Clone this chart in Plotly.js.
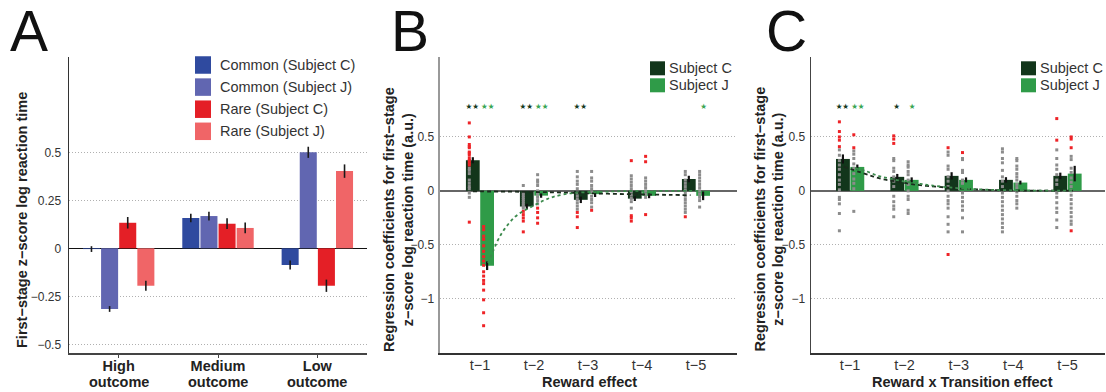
<!DOCTYPE html>
<html><head><meta charset="utf-8">
<script src="https://cdn.plot.ly/plotly-3.0.1.min.js"></script>
<style>html,body{margin:0;padding:0;background:#fff;} #chart{width:1106px;height:392px;}</style>
</head><body><div id="chart"></div>
<script>
// ---------- Panel A data ----------
const outcomeLevels = ['High', 'Medium', 'Low'];
const outcomeNoun = 'outcome';
const seriesA = ['Common (Subject C)', 'Common (Subject J)', 'Rare (Subject C)', 'Rare (Subject J)'];
const commonC = [-0.004, 0.158, -0.087];
const commonC_err = [0.015, 0.022, 0.024];
const commonJ = [-0.316, 0.168, 0.500];
const commonJ_err = [0.015, 0.023, 0.029];
const rareC = [0.133, 0.128, -0.195];
const rareC_err = [0.030, 0.028, 0.032];
const rareJ = [-0.195, 0.106, 0.402];
const rareJ_err = [0.026, 0.028, 0.035];
const yTicksA = [-0.5, -0.25, 0, 0.25, 0.5];
const yTickTextA = ['\u22120.5', '\u22120.25', '0', '0.25', '0.5'];

// ---------- Panels B / C data ----------
const lags = ['t\u22121', 't\u22122', 't\u22123', 't\u22124', 't\u22125'];
const subjects = ['Subject C', 'Subject J'];
const yTicksBC = [-1, -0.5, 0, 0.5];
const yTickTextBC = ['\u22121', '\u22120.5', '0', '0.5'];

// Reward effect (B)
const rewardC = [0.284, -0.145, -0.083, -0.072, 0.110];
const rewardC_err = [0.028, 0.025, 0.030, 0.022, 0.030];
const rewardJ = [-0.694, -0.044, -0.030, -0.046, -0.046];
const rewardJ_err = [0.040, 0.020, 0.027, 0.022, 0.040];
const rewardC_gray = [
  [0.21, 0.19, 0.16, 0.10, 0.07, 0.04, 0.02, -0.02, -0.06],
  [0.05, -0.02, -0.04, -0.06, -0.08, -0.10, -0.12, -0.14, -0.16],
  [0.18, 0.13, 0.09, 0.06, 0.02, -0.02, -0.05, -0.08, -0.11, -0.14, -0.17],
  [0.14, 0.11, 0.08, 0.05, 0.02, -0.01, -0.04, -0.07, -0.10, -0.16],
  [0.18, 0.15, 0.10, 0.07, 0.04, 0.01, -0.02, -0.05, -0.08, -0.11, -0.14, -0.17, -0.20]
];
const rewardC_red = [
  [0.63, 0.50, 0.43, 0.41, 0.40, 0.36, 0.35, 0.33, 0.30, 0.28, 0.26, 0.24, -0.29],
  [-0.19, -0.22, -0.25, -0.28, -0.38],
  [-0.20, -0.24, -0.34],
  [0.28, -0.23, -0.25, -0.28],
  [-0.24]
];
const rewardJ_gray = [
  [],
  [0.15, 0.10, 0.08, 0.05, 0.00, -0.03, -0.06, -0.09, -0.12],
  [0.18, 0.12, 0.09, 0.05, 0.02, -0.01, -0.05, -0.08, -0.11, -0.15],
  [0.12, 0.09, 0.06, 0.03, 0.00, -0.03, -0.06],
  [0.18, 0.15, 0.12, 0.09, 0.06, 0.03, 0.00, -0.03, -0.06, -0.09, -0.15]
];
const rewardJ_red = [
  [-0.33, -0.36, -0.42, -0.45, -0.51, -0.56, -0.61, -0.65, -0.69, -0.75, -0.79, -0.83, -0.86, -0.92, -1.01, -1.13, -1.25],
  [-0.16, -0.20, -0.25, -0.30],
  [-0.18],
  [0.32, 0.27, -0.22],
  []
];
const rewardFitC_x = [-0.13, 0.5, 1.0, 1.5, 2.0, 2.5, 3.0, 3.5, 3.9];
const rewardFitC_y = [-0.005, -0.007, -0.010, -0.015, -0.022, -0.028, -0.033, -0.037, -0.040];
const rewardFitJ_x = [0.15, 0.25, 0.34, 0.46, 0.65, 0.83, 1.02, 1.2, 1.36, 1.72, 2.2, 2.6, 3.2, 4.1];
const rewardFitJ_y = [-0.67, -0.55, -0.45, -0.35, -0.24, -0.18, -0.13, -0.085, -0.055, -0.02, -0.01, -0.003, 0.0, 0.0];
const rewardSigC = ['**', '**', '**', '', ''];
const rewardSigJ = ['**', '**', '', '', '*'];

// Reward x Transition effect (C)
const rtC = [0.296, 0.130, 0.139, 0.102, 0.139];
const rtC_err = [0.042, 0.027, 0.034, 0.025, 0.030];
const rtJ = [0.222, 0.102, 0.102, 0.077, 0.160];
const rtJ_err = [0.022, 0.023, 0.023, 0.018, 0.072];
const rtC_gray = [
  [0.38, 0.33, 0.28, 0.24, 0.20, 0.15, 0.10, 0.06, 0.01, -0.06, -0.08, -0.12, -0.21, -0.37],
  [0.30, 0.28, 0.21, 0.18, 0.13, 0.09, 0.04, -0.05, -0.10, -0.14, -0.17, -0.24],
  [0.36, 0.33, 0.23, 0.20, 0.13, 0.09, 0.04, 0.00, -0.05, -0.09, -0.12, -0.16, -0.24, -0.31, -0.38],
  [0.39, 0.36, 0.30, 0.26, 0.19, 0.13, 0.09, 0.04, -0.02, -0.06, -0.10, -0.14, -0.18, -0.22, -0.26, -0.30, -0.34, -0.38],
  [0.38, 0.30, 0.24, 0.20, 0.15, 0.10, 0.06, -0.02, -0.06, -0.11, -0.16, -0.20, -0.27, -0.34]
];
const rtC_red = [
  [0.64, 0.55, 0.50, 0.47, 0.41],
  [0.51, 0.48, 0.44],
  [0.40, -0.59],
  [],
  [0.67, 0.47]
];
const rtJ_gray = [
  [0.37, 0.34, 0.30, 0.25, 0.21, 0.16, 0.11, 0.07, 0.02, -0.19],
  [0.27, 0.24, 0.22, 0.18, 0.15, 0.10, 0.06, 0.00, -0.05, -0.08, -0.18, -0.21],
  [0.30, 0.29, 0.19, 0.17, 0.10, 0.07, -0.02, -0.06, -0.10, -0.14, -0.18, -0.25, -0.38],
  [0.30, 0.28, 0.23, 0.20, 0.16, 0.13, 0.10, 0.06, 0.03, -0.01, -0.05, -0.09, -0.12, -0.16],
  [0.32, 0.29, 0.21, 0.17, 0.12, 0.08, 0.04, 0.00, -0.04, -0.08, -0.12, -0.16, -0.20, -0.24, -0.28, -0.31]
];
const rtJ_red = [
  [0.52, 0.40],
  [],
  [0.355],
  [],
  [0.50, 0.48, 0.40, -0.37]
];
const rtFitC_x = [-0.12, 0.2, 0.43, 0.61, 0.86, 1.1, 1.41, 1.78, 2.09, 2.39, 2.7, 3.2, 3.8, 4.1];
const rtFitC_y = [0.225, 0.17, 0.133, 0.108, 0.086, 0.065, 0.046, 0.031, 0.019, 0.012, 0.006, 0.003, 0.002, 0.002];
const rtFitJ_x = [0.1, 0.31, 0.52, 0.71, 1.01, 1.29, 1.5, 1.8, 2.1, 2.4, 2.7, 3.2, 3.8, 4.1];
const rtFitJ_y = [0.21, 0.18, 0.139, 0.117, 0.086, 0.065, 0.05, 0.033, 0.021, 0.013, 0.008, 0.004, 0.002, 0.002];
const rtSigC = ['**', '*', '', '', ''];
const rtSigJ = ['**', '*', '', '', ''];

// ---------- styling ----------
const FONT = 'Liberation Sans, Arial, Helvetica, sans-serif';
const W = 1106, H = 392;
const px = v => v / W, py = v => 1 - v / H;
const colorsA = ['#2f4a9f', '#6166b1', '#e41f26', '#f06567'];
const colC = '#12361b', colJ = '#2f9b48';
const starC = '#143a1f', starJ = '#3aa553';
const grayDot = '#8c8c8c', redDot = '#ee2327';
const barW = 0.255, offC = -0.26, offJ = 0.005;
const cenC = offC + barW / 2, cenJ = offJ + barW / 2;
const dotShift = -0.065;
const starLevel = 0.78;

const traces = [];

// Panel A bars
[[commonC, commonC_err], [commonJ, commonJ_err], [rareC, rareC_err], [rareJ, rareJ_err]].forEach((s, k) => {
  traces.push({
    type: 'bar', x: outcomeLevels, y: s[0], name: seriesA[k], xaxis: 'x', yaxis: 'y',
    marker: {color: colorsA[k], line: {width: 0}},
    error_y: {type: 'data', array: s[1], color: '#1a1a1a', thickness: 1.6, width: 0},
    showlegend: false, hoverinfo: 'skip'
  });
});

function panel(xa, ya, vC, eC, vJ, eJ, gC, rC, gJ, rJ, fCx, fCy, fJx, fJy, sC, sJ) {
  const idx = lags.map((_, i) => i);
  traces.push({type: 'bar', x: idx, y: vC, width: barW, offset: offC, name: subjects[0], xaxis: xa, yaxis: ya,
    marker: {color: colC, line: {width: 0}}, error_y: {type: 'data', array: eC, color: '#111', thickness: 2.2, width: 0},
    showlegend: false, hoverinfo: 'skip'});
  traces.push({type: 'bar', x: idx, y: vJ, width: barW, offset: offJ, name: subjects[1], xaxis: xa, yaxis: ya,
    marker: {color: colJ, line: {width: 0}}, error_y: {type: 'data', array: eJ, color: '#111', thickness: 2.2, width: 0},
    showlegend: false, hoverinfo: 'skip'});
  function dots(lists, center, color) {
    const xs = [], ys = [];
    lists.forEach((l, i) => l.forEach(v => { xs.push(i + center + dotShift); ys.push(v); }));
    traces.push({type: 'scatter', mode: 'markers', x: xs, y: ys, xaxis: xa, yaxis: ya,
      marker: {color: color, size: 3, symbol: 'square', line: {width: 0}}, showlegend: false, hoverinfo: 'skip'});
  }
  dots(gC, cenC, grayDot); dots(gJ, cenJ, grayDot);
  dots(rC, cenC, redDot); dots(rJ, cenJ, redDot);
  traces.push({type: 'scatter', mode: 'lines', x: fCx, y: fCy, xaxis: xa, yaxis: ya, line: {shape: 'spline', color: '#1b2b1d', width: 1.8, dash: '4px,3px'}, showlegend: false, hoverinfo: 'skip'});
  traces.push({type: 'scatter', mode: 'lines', x: fJx, y: fJy, xaxis: xa, yaxis: ya, line: {shape: 'spline', color: '#3b8a4c', width: 1.8, dash: '3px,3px'}, showlegend: false, hoverinfo: 'skip'});
  const starTxt = s => s.replace(/\*/g, '\u2605');
  traces.push({type: 'scatter', mode: 'text', x: idx.map(i => i + cenC - 0.01), y: idx.map(() => starLevel), text: sC.map(starTxt),
    textfont: {color: starC, size: 7.5, family: 'DejaVu Sans'}, xaxis: xa, yaxis: ya, showlegend: false, hoverinfo: 'skip'});
  traces.push({type: 'scatter', mode: 'text', x: idx.map(i => i + cenJ + 0.01), y: idx.map(() => starLevel), text: sJ.map(starTxt),
    textfont: {color: starJ, size: 7.5, family: 'DejaVu Sans'}, xaxis: xa, yaxis: ya, showlegend: false, hoverinfo: 'skip'});
}
panel('x2', 'y2', rewardC, rewardC_err, rewardJ, rewardJ_err, rewardC_gray, rewardC_red, rewardJ_gray, rewardJ_red,
  rewardFitC_x, rewardFitC_y, rewardFitJ_x, rewardFitJ_y, rewardSigC, rewardSigJ);
panel('x3', 'y3', rtC, rtC_err, rtJ, rtJ_err, rtC_gray, rtC_red, rtJ_gray, rtJ_red,
  rtFitC_x, rtFitC_y, rtFitJ_x, rtFitJ_y, rtSigC, rtSigJ);

const yDom = [py(353), py(57)];
const gridStyle = {showgrid: true, gridcolor: '#b0b0b0', griddash: '1px,2px', gridwidth: 1};

const layout = {
  width: W, height: H, margin: {l: 0, r: 0, t: 0, b: 0},
  paper_bgcolor: '#fff', plot_bgcolor: '#fff',
  font: {family: FONT, color: '#333'},
  barmode: 'group', bargap: 0.27, bargroupgap: 0.06,
  showlegend: false,
  xaxis: {domain: [px(69), px(367)], anchor: 'y', type: 'category', range: [-0.5, 2.5],
    showline: true, linecolor: '#444', linewidth: 1.5, ticks: 'outside', ticklen: 3, tickcolor: '#444',
    ticklabelstandoff: -4,
    tickfont: {family: FONT, size: 14.5, weight: 'bold', color: '#222'}, showgrid: false, zeroline: false},
  yaxis: Object.assign({domain: yDom, anchor: 'x', range: [-0.5453, 0.9964], tickvals: yTicksA, ticktext: yTickTextA,
    tickfont: {family: FONT, size: 12, color: '#333'}, showline: true, linecolor: '#333', linewidth: 1.5, ticks: '',
    ticklabelstandoff: 4, zeroline: true, zerolinecolor: '#111', zerolinewidth: 1.5}, gridStyle),
  xaxis2: {domain: [px(440), px(737)], anchor: 'y2', range: [-0.74, 4.76], tickvals: [0, 1, 2, 3, 4], ticktext: lags,
    showline: true, linecolor: '#333', linewidth: 1.5, ticks: '', ticklabelstandoff: -2,
    tickfont: {family: FONT, size: 14.5, color: '#333'}, showgrid: false, zeroline: false},
  yaxis2: Object.assign({domain: yDom, anchor: 'x2', range: [-1.503, 1.241], tickvals: yTicksBC, ticktext: yTickTextBC,
    tickfont: {family: FONT, size: 12, color: '#333'}, showline: true, linecolor: '#999', linewidth: 2.5, ticks: '',
    ticklabelstandoff: 1, zeroline: true, zerolinecolor: '#666', zerolinewidth: 2}, gridStyle),
  xaxis3: {domain: [px(811), px(1105)], anchor: 'y3', range: [-0.72, 4.69], tickvals: [0, 1, 2, 3, 4], ticktext: lags,
    showline: true, linecolor: '#333', linewidth: 1.5, ticks: '', ticklabelstandoff: -2,
    tickfont: {family: FONT, size: 14.5, color: '#333'}, showgrid: false, zeroline: false},
  yaxis3: Object.assign({domain: yDom, anchor: 'x3', range: [-1.503, 1.241], tickvals: yTicksBC, ticktext: yTickTextBC,
    tickfont: {family: FONT, size: 12, color: '#333'}, showline: true, linecolor: '#444', linewidth: 1.5, ticks: '',
    ticklabelstandoff: 2, zeroline: true, zerolinecolor: '#666', zerolinewidth: 2}, gridStyle),
  shapes: [], annotations: []
};

const ann = (o) => layout.annotations.push(Object.assign({xref: 'paper', yref: 'paper', showarrow: false}, o));
const boldFont = {family: FONT, size: 14.5, weight: 'bold', color: '#222'};

// second line of the panel A category labels
outcomeLevels.forEach((c, i) => ann({xref: 'x', x: i, y: py(381.5), xanchor: 'center', yanchor: 'middle', text: outcomeNoun, font: boldFont}));

// panel letters
ann({x: px(8), y: py(31), xanchor: 'left', yanchor: 'middle', text: 'A', font: {family: FONT, size: 57, color: '#111'}});
ann({x: px(389), y: py(31), xanchor: 'left', yanchor: 'middle', text: 'B', font: {family: FONT, size: 57, color: '#111'}});
ann({x: px(764), y: py(31), xanchor: 'left', yanchor: 'middle', text: 'C', font: {family: FONT, size: 57, color: '#111'}});

// axis titles
ann({x: px(22), y: py(220), xanchor: 'center', yanchor: 'middle', textangle: -90,
  text: 'First\u2212stage z\u2212score log reaction time', font: boldFont});
const yTitleBC = 'Regression coefficients for first\u2212stage<br>z\u2212score log reaction time (a.u.)';
ann({x: px(398.5), y: py(219.5), xanchor: 'center', yanchor: 'middle', textangle: -90, text: yTitleBC, font: boldFont});
ann({x: px(769), y: py(219.5), xanchor: 'center', yanchor: 'middle', textangle: -90, text: yTitleBC, font: boldFont});
ann({x: px(589), y: py(381.5), xanchor: 'center', yanchor: 'middle', text: 'Reward effect', font: boldFont});
ann({x: px(962), y: py(381.5), xanchor: 'center', yanchor: 'middle', text: 'Reward x Transition effect', font: boldFont});

// legends
const legFont = {family: FONT, size: 14.5, color: '#333'};
function legend(names, colors, x0, sqW, sqH, yc0, dy, tx) {
  names.forEach((n, k) => {
    const yc = yc0 + k * dy;
    layout.shapes.push({type: 'rect', xref: 'paper', yref: 'paper', x0: px(x0), x1: px(x0 + sqW),
      y0: py(yc + sqH / 2), y1: py(yc - sqH / 2), fillcolor: colors[k], line: {width: 0}});
    ann({x: px(tx), y: py(yc), xanchor: 'left', yanchor: 'middle', text: n, font: legFont});
  });
}
legend(seriesA, colorsA, 195, 16, 17.5, 65, 22.1, 218);
legend(subjects, [colC, colJ], 650, 15, 14, 68.3, 17, 667);
legend(subjects, [colC, colJ], 1021, 15, 14, 68.3, 17, 1038);

Plotly.newPlot('chart', traces, layout, {staticPlot: true, displayModeBar: false});
</script>
</body></html>
